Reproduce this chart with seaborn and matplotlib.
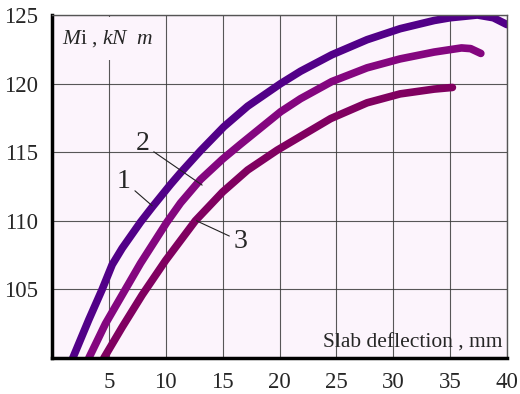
import matplotlib
matplotlib.use("Agg")
import matplotlib.pyplot as plt
import seaborn as sns
import pandas as pd

# ---- data ----
c1_x = [1.83, 3.24, 4.41, 5.29, 6.17, 7.78, 8.81, 10.42, 11.3, 13.05, 15.1, 17.2, 20.1, 21.85, 24.6, 27.7, 30.6, 33.6, 35.0, 37.4, 38.8, 40.0]
c1_y = [100.0, 102.8, 105.0, 106.8, 108.0, 109.9, 111.0, 112.65, 113.5, 115.1, 116.85, 118.35, 120.0, 120.9, 122.1, 123.2, 124.0, 124.6, 124.8, 125.0, 124.8, 124.3]
c2_x = [3.24, 4.70, 6.17, 7.78, 10.1, 11.3, 13.05, 15.0, 16.6, 20.1, 21.85, 24.6, 27.7, 30.6, 33.6, 36.0, 36.8, 37.7]
c2_y = [100.0, 102.5, 104.6, 106.9, 109.9, 111.3, 113.0, 114.5, 115.6, 117.95, 118.9, 120.15, 121.15, 121.8, 122.3, 122.6, 122.55, 122.2]
c3_x = [4.56, 6.17, 7.93, 9.98, 12.6, 15.0, 17.2, 19.8, 24.5, 27.7, 30.6, 33.6, 35.2]
c3_y = [100.0, 102.25, 104.6, 107.1, 110.0, 112.1, 113.7, 115.15, 117.45, 118.6, 119.25, 119.6, 119.72]
curve_names = ["1", "2", "3"]
x_ticks = [5, 10, 15, 20, 25, 30, 35, 40]
y_ticks = [105, 110, 115, 120, 125]
x_label = "Slab deflection , mm"

frames = []
for name, xs, ys in zip(curve_names, [c1_x, c2_x, c3_x], [c1_y, c2_y, c3_y]):
    frames.append(pd.DataFrame({"x": xs, "y": ys, "curve": name}))
df = pd.concat(frames, ignore_index=True)

sns.set_style("white")
plt.rcParams["font.family"] = ["Liberation Serif", "DejaVu Serif"]
plt.rcParams["mathtext.fontset"] = "custom"
plt.rcParams["mathtext.it"] = "Liberation Serif:italic"
plt.rcParams["mathtext.rm"] = "Liberation Serif"

fig = plt.figure(figsize=(5.2, 3.94), dpi=100)
ax = fig.add_axes([52 / 520, 1 - 358 / 394, 455 / 520, 343 / 394])
ax.set_facecolor("#fcf4fc")

palette = {"1": "#520088", "2": "#84067f", "3": "#800060"}
sns.lineplot(data=df, x="x", y="y", hue="curve", palette=palette, sort=False,
             estimator=None, lw=5.5, ax=ax, legend=False,
             solid_capstyle="round", solid_joinstyle="round", zorder=3)

ax.set_xlim(0, 40)
ax.set_ylim(100, 125)
ax.set_xticks(x_ticks)
ax.set_yticks(y_ticks)
ax.set_xticklabels([str(v) for v in x_ticks])
ax.set_yticklabels([str(v) for v in y_ticks])
ax.grid(True, color="#3a3a3a", lw=0.8, alpha=0.85, zorder=1)
ax.set_axisbelow(True)
ax.set_xlabel("")
ax.set_ylabel("")

for s in ["left", "bottom"]:
    ax.spines[s].set_linewidth(2.5)
    ax.spines[s].set_color("black")
    ax.spines[s].set_zorder(6)
for s in ["top", "right"]:
    ax.spines[s].set_linewidth(1.0)
    ax.spines[s].set_color("#555555")
    ax.spines[s].set_zorder(6)

ax.tick_params(axis="both", direction="out", length=6, width=2.2, color="black",
               labelsize=16.5, pad=4)

ax.text(0.9, 123.3, r"$\mathit{M}$i , $\mathit{kN\ \ m}$", fontsize=15.5, ha="left", va="center",
        zorder=2, bbox=dict(boxstyle="square,pad=0.5", facecolor="#fcf4fc", edgecolor="none"))
ax.text(39.6, 101.1, x_label, fontsize=15.5, ha="right", va="center", zorder=5)

lbl = dict(arrowstyle="-", lw=0.8, color="#222222", shrinkA=1, shrinkB=0)
ax.annotate("1", xy=(8.8, 111.1), xytext=(6.3, 112.9), fontsize=20, ha="center", va="center",
            arrowprops=lbl, zorder=5)
ax.annotate("2", xy=(13.2, 112.6), xytext=(7.95, 115.6), fontsize=20, ha="center", va="center",
            arrowprops=lbl, zorder=5)
ax.annotate("3", xy=(12.7, 110.0), xytext=(16.6, 108.5), fontsize=20, ha="center", va="center",
            arrowprops=lbl, zorder=5)

fig.savefig("out.png", dpi=100)
